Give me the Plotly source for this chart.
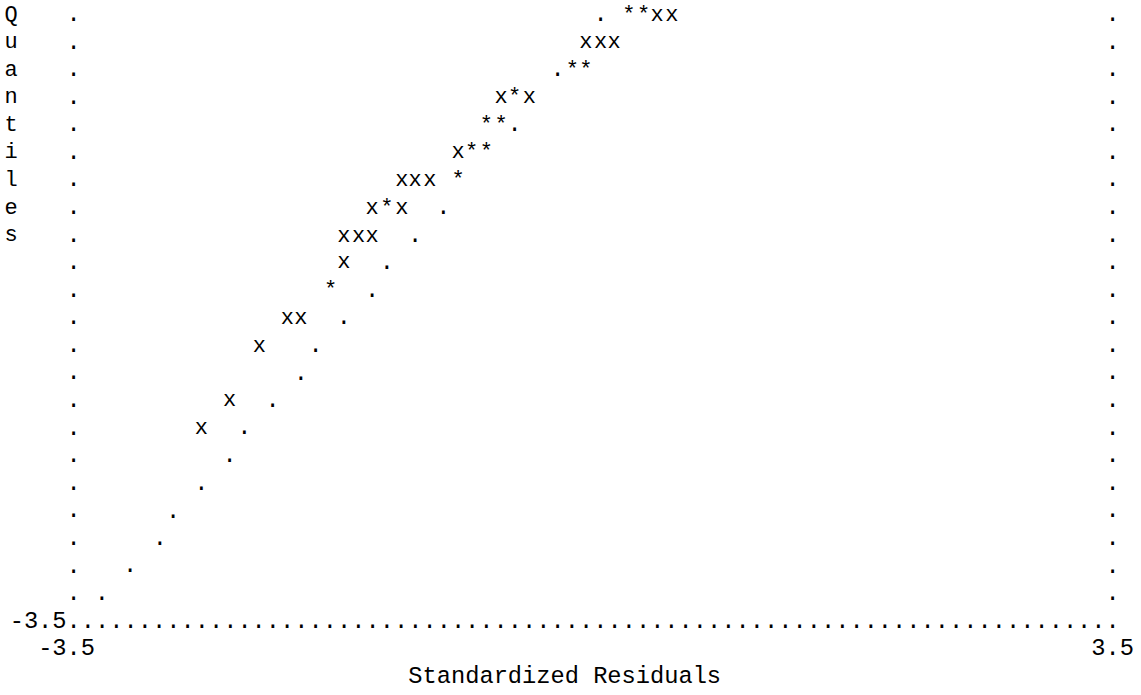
import numpy as np
import plotly.graph_objects as go

# ---------------- data ----------------
X_MIN, X_MAX = -3.5, 3.5          # Standardized Residuals axis
Y_MIN, Y_MAX = -3.5, 3.5          # Quantiles axis
N_COLS, N_ROWS = 73, 22           # print cells between the axis limits

# observed points ('x')
obs_x = [0.43, 0.53, -0.05, 0.05, 0.14, -0.62, -0.43, -0.91, -1.29, -1.20, -1.10,
         -1.49, -1.29, -1.68, -1.58, -1.49, -1.68, -2.06, -1.97, -2.25, -2.45, -2.64]
obs_y = [3.50, 3.50, 3.18, 3.18, 3.18, 2.55, 2.55, 1.91, 1.59, 1.59, 1.59,
         1.27, 1.27, 0.95, 0.95, 0.95, 0.64, 0.00, 0.00, -0.32, -0.95, -1.27]

# coincident points ('*')
both_x = [0.24, 0.34, -0.14, -0.05, -0.53, -0.72, -0.62, -0.82, -0.72, -0.91, -1.39, -1.77]
both_y = [3.50, 3.50, 2.86, 2.86, 2.55, 2.23, 2.23, 1.91, 1.91, 1.59, 1.27, 0.32]

# reference normal line ('.')
ref_x = [0.05, -0.24, -0.53, -1.01, -1.20, -1.39, -1.49, -1.68, -1.87, -1.97,
         -2.16, -2.35, -2.45, -2.64, -2.83, -2.92, -3.12, -3.31]
ref_y = [3.50, 2.86, 2.23, 1.27, 0.95, 0.64, 0.32, 0.00, -0.32, -0.64,
         -0.95, -1.27, -1.59, -1.91, -2.23, -2.55, -2.86, -3.18]

y_label = "Quantiles"
x_label = "Standardized Residuals"
x_ticks = ["-3.5", "3.5"]
y_ticks = ["-3.5"]

# ---------------- layout helpers ----------------
FONT = "Liberation Mono"
FS = 23.7          # gives the 14.2 px character pitch of the printout
FS_MARK = 22
CX = (X_MAX - X_MIN) / N_COLS
CY = (Y_MAX - Y_MIN) / N_ROWS

W, H = 1141, 695
px_x = (X_MAX - X_MIN) / 1039.0
x_range = [X_MIN - 73.7 * px_x, X_MAX + (W - 1112.7) * px_x]
px_y = (Y_MAX - Y_MIN) / (N_ROWS * 27.58)
y_range = [Y_MIN - (H - (15.0 + 27.58 * N_ROWS)) * px_y, Y_MAX + 15.0 * px_y]


def txt(size):
    return dict(mode="text", textposition="middle center", cliponaxis=False,
                textfont=dict(family=FONT, size=size, color="#000000"),
                hoverinfo="skip", showlegend=False)


fig = go.Figure()

# frame made of dots (left, right border and bottom axis row)
rows_y = Y_MAX - CY * np.arange(N_ROWS)
cols_x = X_MIN + CX * np.arange(N_COLS + 1)
frame_x = np.concatenate([np.full(N_ROWS, X_MIN), np.full(N_ROWS, X_MAX), cols_x])
frame_y = np.concatenate([rows_y, rows_y, np.full(N_COLS + 1, Y_MIN)])
fig.add_trace(go.Scatter(x=frame_x, y=frame_y, text=["."] * len(frame_x), **txt(FS)))

# plotted symbols
fig.add_trace(go.Scatter(x=ref_x, y=ref_y, text=["."] * len(ref_x), name="reference", **txt(FS)))
fig.add_trace(go.Scatter(x=obs_x, y=obs_y, text=["x"] * len(obs_x), name="observed", **txt(FS_MARK)))
fig.add_trace(go.Scatter(x=both_x, y=both_y, text=["*"] * len(both_x), name="both", **txt(FS_MARK)))

# vertical y-axis title, one letter per row
fig.add_trace(go.Scatter(x=[X_MIN - 4.4 * CX] * len(y_label),
                         y=list(rows_y[:len(y_label)]),
                         text=list(y_label), **txt(FS_MARK)))
# tick labels
fig.add_trace(go.Scatter(x=[X_MIN - 2.5 * CX], y=[Y_MIN], text=y_ticks, **txt(FS)))
fig.add_trace(go.Scatter(x=[X_MIN - 0.5 * CX, X_MAX], y=[Y_MIN - CY, Y_MIN - CY],
                         text=x_ticks, **txt(FS)))
# x-axis title
fig.add_trace(go.Scatter(x=[X_MIN + 34.5 * CX], y=[Y_MIN - 2 * CY], text=[x_label], **txt(FS)))

fig.update_layout(
    width=W, height=H,
    margin=dict(l=0, r=0, t=0, b=0, pad=0),
    paper_bgcolor="white", plot_bgcolor="white",
    xaxis=dict(range=x_range, visible=False, fixedrange=True),
    yaxis=dict(range=y_range, visible=False, fixedrange=True),
)

fig.write_html("out.html", config={"displayModeBar": False},
               post_script="document.body.style.margin='0';document.body.style.overflow='hidden';")
